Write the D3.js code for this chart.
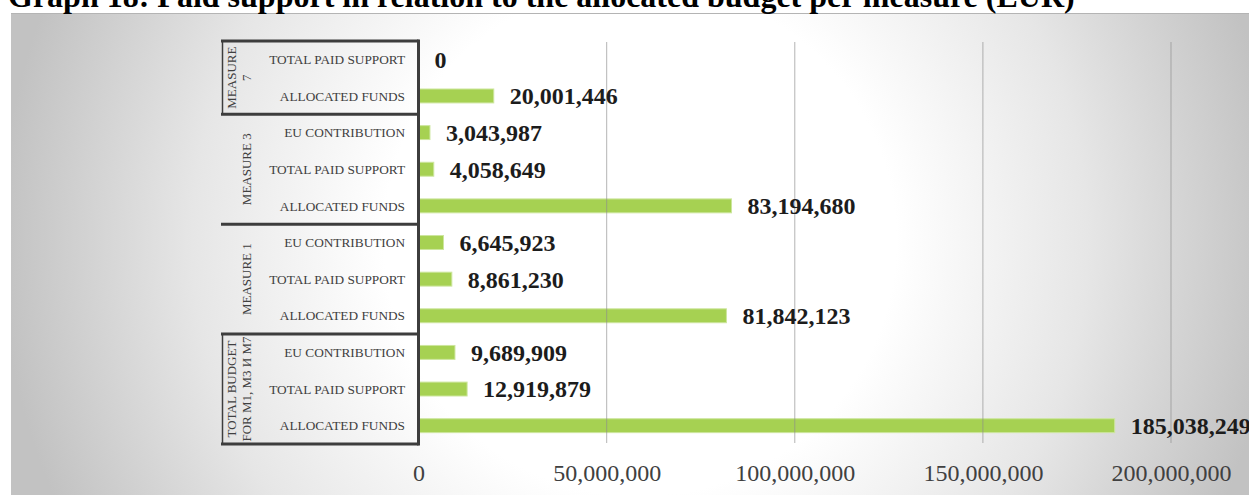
<!DOCTYPE html>
<html>
<head>
<meta charset="utf-8">
<script src="https://cdn.jsdelivr.net/npm/d3@7"></script>
<style>
  html, body { margin: 0; padding: 0; background: #ffffff; }
  svg { display: block; }
</style>
</head>
<body>
<svg id="chart" width="1249" height="495"></svg>
<script>
// Paid support vs. allocated budget, per measure (EUR)
const titleText = "Graph 18: Paid support in relation to the allocated budget per measure (EUR)";

// Outer category level (top to bottom), each entry is the wrapped lines of the label
const groupLabels = [
  ["MEASURE", "7"],
  ["MEASURE 3"],
  ["MEASURE 1"],
  ["TOTAL BUDGET", "FOR M1, M3 И M7"]
];

// Inner category level, one per bar (top to bottom)
const rowCategories = [
  "TOTAL PAID SUPPORT", "ALLOCATED FUNDS",
  "EU CONTRIBUTION", "TOTAL PAID SUPPORT", "ALLOCATED FUNDS",
  "EU CONTRIBUTION", "TOTAL PAID SUPPORT", "ALLOCATED FUNDS",
  "EU CONTRIBUTION", "TOTAL PAID SUPPORT", "ALLOCATED FUNDS"
];

// Which outer group each row belongs to
const rowGroups = [0, 0, 1, 1, 1, 2, 2, 2, 3, 3, 3];

// Amounts in EUR
const values = [
  0, 20001446,
  3043987, 4058649, 83194680,
  6645923, 8861230, 81842123,
  9689909, 12919879, 185038249
];

const xTicks = [0, 50000000, 100000000, 150000000, 200000000];

const svg = d3.select("#chart");
const fmt = d3.format(",");
const serif = "'Liberation Serif', 'Times New Roman', serif";

// Background panel with soft radial shading
const defs = svg.append("defs");
const grad = defs.append("radialGradient")
  .attr("id", "bg")
  .attr("gradientUnits", "userSpaceOnUse")
  .attr("cx", 640).attr("cy", 240).attr("r", 640);
grad.append("stop").attr("offset", "0").attr("stop-color", "#ffffff");
grad.append("stop").attr("offset", "0.4").attr("stop-color", "#ffffff");
grad.append("stop").attr("offset", "0.7").attr("stop-color", "#e6e6e6");
grad.append("stop").attr("offset", "1").attr("stop-color", "#c2c2c2");

svg.append("rect")
  .attr("x", 11).attr("y", 13)
  .attr("width", 1238).attr("height", 482)
  .attr("fill", "url(#bg)");
svg.append("line")
  .attr("x1", 11).attr("x2", 1249).attr("y1", 13.5).attr("y2", 13.5)
  .attr("stroke", "#b4b4b4").attr("stroke-width", 1);

// Title (partly above the visible area)
svg.append("text")
  .attr("x", 8).attr("y", 7)
  .attr("font-family", serif)
  .attr("font-weight", "bold")
  .attr("font-size", 32)
  .attr("fill", "#000")
  .text(titleText);

// Scales
const x = d3.scaleLinear().domain([0, 200000000]).range([418.5, 1171]);
const rowIds = d3.range(rowCategories.length);
const y = d3.scaleBand().domain(rowIds).range([41, 444])
  .paddingInner(0.62).paddingOuter(0.31);
const step = y.step();
const plotTop = 41, plotBottom = 444;

// Bars
svg.append("g").selectAll("rect")
  .data(rowIds)
  .join("rect")
  .attr("x", x(0))
  .attr("y", i => y(i))
  .attr("width", i => x(values[i]) - x(0))
  .attr("height", y.bandwidth())
  .attr("fill", "#a6d152")
  .attr("stroke", "#cde69e")
  .attr("stroke-width", 1);

// Vertical gridlines (drawn over the bars, semi-transparent)
svg.append("g").selectAll("line")
  .data(xTicks.filter(t => t > 0))
  .join("line")
  .attr("x1", d => x(d)).attr("x2", d => x(d))
  .attr("y1", plotTop + 1).attr("y2", plotBottom - 1)
  .attr("stroke", "#8c8c8c")
  .attr("stroke-opacity", 0.55)
  .attr("stroke-width", 1.2);

// Value labels
svg.append("g").selectAll("text")
  .data(rowIds)
  .join("text")
  .attr("x", i => x(values[i]) + 16)
  .attr("y", i => y(i) + y.bandwidth() / 2)
  .attr("dy", "0.35em")
  .attr("font-family", serif)
  .attr("font-weight", "bold")
  .attr("font-size", 24)
  .attr("fill", "#1c1c1c")
  .text(i => fmt(values[i]));

// Bottom value axis (labels only)
const xAxis = d3.axisBottom(x).tickValues(xTicks).tickFormat(fmt)
  .tickSize(0).tickPadding(0);
const axG = svg.append("g").attr("transform", "translate(0,464)").call(xAxis);
axG.select(".domain").remove();
axG.selectAll("text")
  .attr("font-family", serif)
  .attr("font-size", 24)
  .attr("fill", "#404040");

// Inner category labels
svg.append("g").selectAll("text")
  .data(rowIds)
  .join("text")
  .attr("x", 405)
  .attr("y", i => y(i) + y.bandwidth() / 2)
  .attr("dy", "0.35em")
  .attr("text-anchor", "end")
  .attr("font-family", serif)
  .attr("font-size", 13.3)
  .attr("fill", "#404040")
  .text(i => rowCategories[i]);

// Group extents derived from row membership
const groups = groupLabels.map((lines, g) => {
  const rows = rowIds.filter(i => rowGroups[i] === g);
  const top = y(rows[0]) - (step - y.bandwidth()) / 2;
  const bottom = y(rows[rows.length - 1]) + y.bandwidth() + (step - y.bandwidth()) / 2;
  return { lines, top, bottom };
});

// Group separators of the category axis
const lineColor = "#3d3d3d";
const boundaries = [groups[0].top, ...groups.map(g => g.bottom)];
svg.append("g").selectAll("line")
  .data(boundaries)
  .join("line")
  .attr("x1", 221).attr("x2", x(0))
  .attr("y1", d => d).attr("y2", d => d)
  .attr("stroke", lineColor)
  .attr("stroke-width", 3);

// Left edge marks beside the wrapped group labels
svg.append("g").selectAll("line")
  .data(groups.filter(g => g.lines.length > 1))
  .join("line")
  .attr("x1", 222.5).attr("x2", 222.5)
  .attr("y1", d => d.top).attr("y2", d => d.bottom)
  .attr("stroke", lineColor)
  .attr("stroke-width", 1.5);

// Category axis line at zero
svg.append("line")
  .attr("x1", x(0)).attr("x2", x(0))
  .attr("y1", plotTop - 1.5).attr("y2", plotBottom + 1.5)
  .attr("stroke", lineColor)
  .attr("stroke-width", 3);

// Outer group labels, rotated
const lineGap = 15;
const gLabels = svg.append("g").selectAll("text")
  .data(groups)
  .join("text")
  .attr("transform", d => `translate(239,${(d.top + d.bottom) / 2}) rotate(-90)`)
  .attr("text-anchor", "middle")
  .attr("font-family", serif)
  .attr("font-size", 13)
  .attr("fill", "#404040");
gLabels.selectAll("tspan")
  .data(d => d.lines.map((t, k) => ({ t, k, n: d.lines.length })))
  .join("tspan")
  .attr("x", 0)
  .attr("y", d => (d.n === 1 ? lineGap / 2 : (d.k - (d.n - 1) / 2) * lineGap))
  .attr("dy", "0.35em")
  .text(d => d.t);
</script>
</body>
</html>
